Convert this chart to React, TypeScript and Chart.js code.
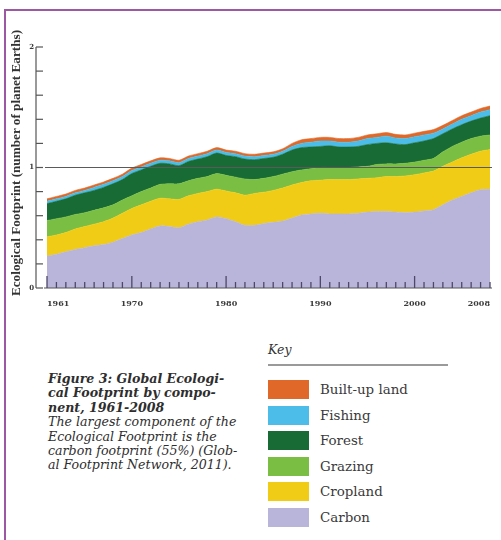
import React, { useEffect, useRef } from 'react';
import { Chart, registerables } from 'chart.js';

Chart.register(...registerables);

const years = ['1961','1962','1963','1964','1965','1966','1967','1968','1969','1970',
  '1971','1972','1973','1974','1975','1976','1977','1978','1979','1980',
  '1981','1982','1983','1984','1985','1986','1987','1988','1989','1990',
  '1991','1992','1993','1994','1995','1996','1997','1998','1999','2000',
  '2001','2002','2003','2004','2005','2006','2007','2008'];

const xTickLabels = ['1961', '1970', '1980', '1990', '2000', '2008'];
const yTickLabels = ['0', '1', '2'];

const carbon = [0.265,0.28,0.30,0.32,0.335,0.35,0.36,0.38,0.41,0.44,
  0.46,0.49,0.515,0.51,0.50,0.53,0.55,0.565,0.59,0.575,
  0.55,0.52,0.52,0.535,0.545,0.555,0.58,0.605,0.615,0.62,
  0.615,0.615,0.615,0.62,0.63,0.635,0.635,0.63,0.625,0.63,
  0.64,0.65,0.69,0.73,0.76,0.79,0.815,0.82];

const cropland = [0.16,0.16,0.16,0.17,0.175,0.18,0.19,0.20,0.21,0.22,
  0.23,0.23,0.23,0.23,0.235,0.235,0.235,0.235,0.23,0.23,
  0.24,0.25,0.265,0.26,0.265,0.275,0.275,0.27,0.275,0.275,
  0.285,0.285,0.285,0.285,0.28,0.28,0.29,0.295,0.305,0.31,
  0.315,0.32,0.32,0.315,0.32,0.32,0.32,0.33];

const grazing = [0.135,0.135,0.13,0.12,0.115,0.115,0.115,0.11,0.11,0.105,
  0.11,0.11,0.115,0.125,0.13,0.125,0.125,0.125,0.13,0.13,
  0.13,0.135,0.115,0.115,0.115,0.115,0.11,0.105,0.10,0.105,
  0.10,0.10,0.10,0.10,0.10,0.11,0.105,0.105,0.105,0.105,
  0.105,0.105,0.12,0.13,0.13,0.13,0.125,0.12];

const forest = [0.14,0.145,0.15,0.16,0.165,0.165,0.17,0.175,0.17,0.185,
  0.18,0.18,0.175,0.165,0.15,0.16,0.16,0.165,0.17,0.165,
  0.17,0.165,0.165,0.165,0.16,0.165,0.18,0.185,0.18,0.175,
  0.18,0.17,0.17,0.17,0.18,0.175,0.175,0.165,0.155,0.16,
  0.16,0.165,0.15,0.145,0.145,0.145,0.15,0.16];

const fishing = [0.02,0.02,0.02,0.02,0.02,0.025,0.025,0.025,0.025,0.025,
  0.025,0.025,0.025,0.025,0.025,0.025,0.025,0.025,0.025,0.025,
  0.025,0.025,0.025,0.025,0.025,0.025,0.03,0.035,0.04,0.045,
  0.04,0.04,0.04,0.045,0.05,0.05,0.055,0.05,0.05,0.05,
  0.05,0.045,0.04,0.04,0.045,0.045,0.05,0.05];

const builtUp = [0.02,0.02,0.02,0.02,0.02,0.02,0.02,0.02,0.02,0.02,
  0.02,0.02,0.02,0.02,0.02,0.02,0.02,0.02,0.02,0.02,
  0.02,0.02,0.02,0.02,0.02,0.02,0.025,0.03,0.03,0.03,
  0.03,0.03,0.03,0.03,0.03,0.03,0.03,0.03,0.03,0.03,
  0.03,0.03,0.03,0.03,0.03,0.03,0.03,0.03];

const seriesNames = ['Carbon', 'Cropland', 'Grazing', 'Forest', 'Fishing', 'Built-up land'];
const seriesColors = ['#b9b5da', '#f1cc17', '#7abf43', '#186b34', '#4bbde8', '#e0692a'];
const seriesData = [carbon, cropland, grazing, forest, fishing, builtUp];

const axisPlugin = {
  id: 'footprintAxes',
  afterDatasetsDraw(chart: any) {
    const { ctx, chartArea, scales } = chart;
    const x = scales.x;
    const y = scales.y;
    ctx.save();
    const y1 = y.getPixelForValue(1);
    ctx.strokeStyle = '#5a5a5a';
    ctx.lineWidth = 1;
    ctx.beginPath();
    ctx.moveTo(chartArea.left - 2, y1);
    ctx.lineTo(chartArea.right + 2, y1);
    ctx.stroke();
    const yb = y.getPixelForValue(0);
    ctx.strokeStyle = '#555';
    ctx.lineWidth = 1.2;
    ctx.beginPath();
    ctx.moveTo(chartArea.left - 3, yb);
    ctx.lineTo(chartArea.right + 2, yb);
    ctx.stroke();
    ctx.strokeStyle = '#4d4868';
    ctx.lineWidth = 1.3;
    years.forEach((yr, i) => {
      const px = x.getPixelForValue(i);
      const n = Number(yr);
      const major = n === 1961 || n % 10 === 0;
      ctx.beginPath();
      ctx.moveTo(px, yb);
      ctx.lineTo(px, yb - (major ? 12 : 6));
      ctx.stroke();
    });
    const ax = chartArea.left - 11;
    ctx.strokeStyle = '#555';
    ctx.lineWidth = 1.2;
    ctx.beginPath();
    ctx.moveTo(ax, y.getPixelForValue(0));
    ctx.lineTo(ax, y.getPixelForValue(2));
    ctx.stroke();
    y.ticks.forEach((t: any) => {
      const py = y.getPixelForValue(t.value);
      ctx.beginPath();
      ctx.moveTo(ax, py);
      ctx.lineTo(ax + 7, py);
      ctx.stroke();
    });
    ctx.restore();
  },
};

export default function App() {
  const ref = useRef<HTMLCanvasElement>(null);

  useEffect(() => {
    if (!ref.current) return;
    const chart = new Chart(ref.current, {
      type: 'line',
      data: {
        labels: years,
        datasets: seriesData.map((d, i) => ({
          label: seriesNames[i],
          data: d,
          backgroundColor: seriesColors[i],
          borderColor: seriesColors[i],
          borderWidth: 0.6,
          pointRadius: 0,
          fill: i === 0 ? 'origin' : '-1',
          tension: 0.25,
        })),
      },
      options: {
        animation: false,
        responsive: false,
        layout: { padding: { top: 47, right: 8, left: 0, bottom: 0 } },
        plugins: { legend: { display: false }, tooltip: { enabled: false } },
        scales: {
          x: {
            offset: false,
            grid: { display: false, drawTicks: false },
            border: { display: false },
            ticks: {
              autoSkip: false,
              maxRotation: 0,
              align: 'inner',
              padding: 11,
              color: '#3a3a3a',
              font: { family: 'DejaVu Serif', size: 8, weight: 'bold' },
              callback: (_v: any, i: number) => (xTickLabels.includes(years[i]) ? years[i] : ''),
            },
            afterFit: (s: any) => { s.height = 32; },
          },
          y: {
            stacked: true,
            min: 0,
            max: 2,
            grid: { display: false, drawTicks: false },
            border: { display: false },
            ticks: {
              stepSize: 0.2,
              padding: 13,
              color: '#3a3a3a',
              font: { family: 'DejaVu Serif', size: 7, weight: 'bold' },
              callback: (v: any) => {
                const n = Number(v);
                const r = Math.round(n);
                return Math.abs(n - r) < 1e-6 && yTickLabels.includes(String(r)) ? String(r) : '';
              },
            },
            afterFit: (s: any) => { s.width = 47; },
          },
        },
      } as any,
      plugins: [axisPlugin],
    });
    return () => chart.destroy();
  }, []);

  const legendOrder = [5, 4, 3, 2, 1, 0];
  const purple = '#9c58a3';

  return (
    <div style={{ position: 'fixed', left: 0, top: 0, width: 501, height: 540, background: '#fff', overflow: 'hidden' }}>
      <div style={{ position: 'absolute', left: 4, top: 9, width: 497, height: 2, background: purple }} />
      <div style={{ position: 'absolute', left: 4, top: 9, width: 2, height: 531, background: purple }} />
      <canvas ref={ref} width={501} height={320} style={{ position: 'absolute', left: 0, top: 0, width: 501, height: 320 }} />
      <div style={{
        position: 'absolute', left: 16 - 150, top: 163 - 8, width: 300, height: 16, lineHeight: '16px',
        textAlign: 'center', transform: 'rotate(-90deg)', transformOrigin: '50% 50%',
        fontFamily: '"Liberation Serif", serif', fontWeight: 'bold', fontSize: 13.2, color: '#333', whiteSpace: 'nowrap',
      }}>Ecological Footprint (number of planet Earths)</div>

      <div style={{
        position: 'absolute', left: 48, top: 372, fontFamily: '"DejaVu Serif", serif', fontStyle: 'italic',
        fontSize: 12.6, lineHeight: '14.4px', color: '#2e2e2e', whiteSpace: 'nowrap',
      }}>
        <div style={{ fontWeight: 'bold' }}>Figure 3: Global Ecologi-<br />cal Footprint by compo-<br />nent, 1961-2008</div>
        <div>The largest component of the<br />Ecological Footprint is the<br />carbon footprint (55%) (Glob-<br />al Footprint Network, 2011).</div>
      </div>

      <div style={{ position: 'absolute', left: 268, top: 342, fontFamily: '"DejaVu Serif", serif', fontStyle: 'italic', fontSize: 12.5, color: '#333' }}>Key</div>
      <div style={{ position: 'absolute', left: 268, top: 364, width: 180, height: 1.5, background: '#9a9a9a' }} />
      {legendOrder.map((si, row) => (
        <div key={si} style={{ position: 'absolute', left: 268, top: 380 + row * 25.6, height: 19, display: 'flex', alignItems: 'center' }}>
          <div style={{ width: 41, height: 19, background: seriesColors[si] }} />
          <div style={{ marginLeft: 11, fontFamily: '"DejaVu Serif", serif', fontSize: 13.4, color: '#3a3a3a', whiteSpace: 'nowrap' }}>{seriesNames[si]}</div>
        </div>
      ))}
    </div>
  );
}
